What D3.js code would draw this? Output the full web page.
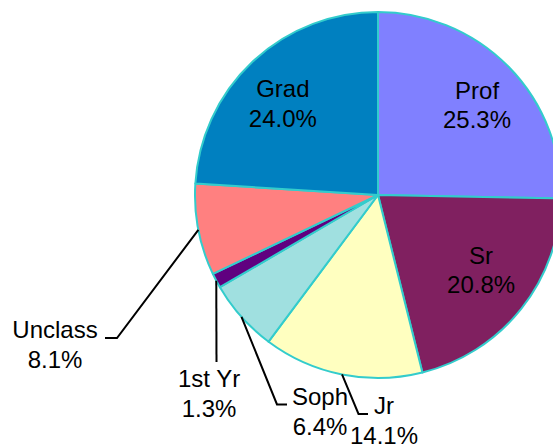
<!DOCTYPE html>
<html>
<head>
<meta charset="utf-8">
<script src="https://cdn.jsdelivr.net/npm/d3@7"></script>
<style>
    html, body { margin: 0; padding: 0; background: #fff; }
    svg text { font-family: "Liberation Sans", Arial, sans-serif; font-size: 24px; fill: #000; }
</style>
</head>
<body>
<div id="chart"></div>
<script>
// Données
const categories = ["Prof", "Sr", "Jr", "Soph", "1st Yr", "Unclass", "Grad"];
const percents = [25.3, 20.8, 14.1, 6.4, 1.3, 8.1, 24.0];
const colors = ["#8080ff", "#802060", "#ffffc0", "#a0e0e0", "#600080", "#ff8080", "#0080c0"];
const insideLabels = ["Prof", "Sr", "Grad"];

(function() {
    const width = 553;
    const height = 447;
    const cx = 378, cy = 195;
    const radius = 183;

    // petits décalages des étiquettes intérieures
    const nudge = { "Prof": [5, 2], "Sr": [0, -7.5], "Grad": [-5, 4.5] };

    // étiquettes extérieures : coude, fin du trait, centre du texte, ligne de base
    const callouts = {
        "Unclass": { elbow: [117, 338], end: [105, 338], tx: 55, ty: 338 },
        "1st Yr": { elbow: [216.5, 362], end: [216.5, 362], tx: 209, ty: 387 },
        "Soph": { elbow: [277, 404.5], end: [287, 404.5], tx: 320, ty: 405 },
        "Jr": { elbow: [358.5, 414], end: [368, 414], tx: 384, ty: 414 }
    };

    const data = categories.map((c, i) => ({ label: c, value: percents[i], color: colors[i] }));

    const pie = d3.pie().value(d => d.value).sort(null);
    const arc = d3.arc().innerRadius(0).outerRadius(radius);
    const edgeArc = d3.arc().innerRadius(radius).outerRadius(radius);
    const labelArc = d3.arc().innerRadius(radius * 0.72).outerRadius(radius * 0.72);
    const fmt = d => d.toFixed(1) + "%";

    const svg = d3.select("#chart").append("svg")
        .attr("width", width)
        .attr("height", height);

    const g = svg.append("g").attr("transform", `translate(${cx},${cy})`);
    const arcs = pie(data);

    g.selectAll("path.slice")
        .data(arcs)
        .enter().append("path")
        .attr("class", "slice")
        .attr("d", arc)
        .attr("fill", d => d.data.color)
        .attr("stroke", "#33cccc")
        .attr("stroke-width", 2)
        .attr("stroke-linejoin", "round");

    // étiquettes intérieures
    arcs.filter(d => insideLabels.includes(d.data.label)).forEach(d => {
        const [x, y] = labelArc.centroid(d);
        const n = nudge[d.data.label];
        const t = g.append("text").attr("text-anchor", "middle");
        t.append("tspan").attr("x", x + n[0]).attr("y", y + n[1] - 6).text(d.data.label);
        t.append("tspan").attr("x", x + n[0]).attr("y", y + n[1] + 23.5).text(fmt(d.data.value));
    });

    // étiquettes extérieures avec traits
    arcs.filter(d => callouts[d.data.label]).forEach(d => {
        const c = callouts[d.data.label];
        const [sx, sy] = edgeArc.centroid(d);
        svg.append("path")
            .attr("d", d3.line()([[sx + cx, sy + cy], c.elbow, c.end]))
            .attr("fill", "none")
            .attr("stroke", "#000")
            .attr("stroke-width", 2);
        const t = svg.append("text").attr("text-anchor", "middle");
        t.append("tspan").attr("x", c.tx).attr("y", c.ty).text(d.data.label);
        t.append("tspan").attr("x", c.tx).attr("y", c.ty + 29.5).text(fmt(d.data.value));
    });
})();
</script>
</body>
</html>
